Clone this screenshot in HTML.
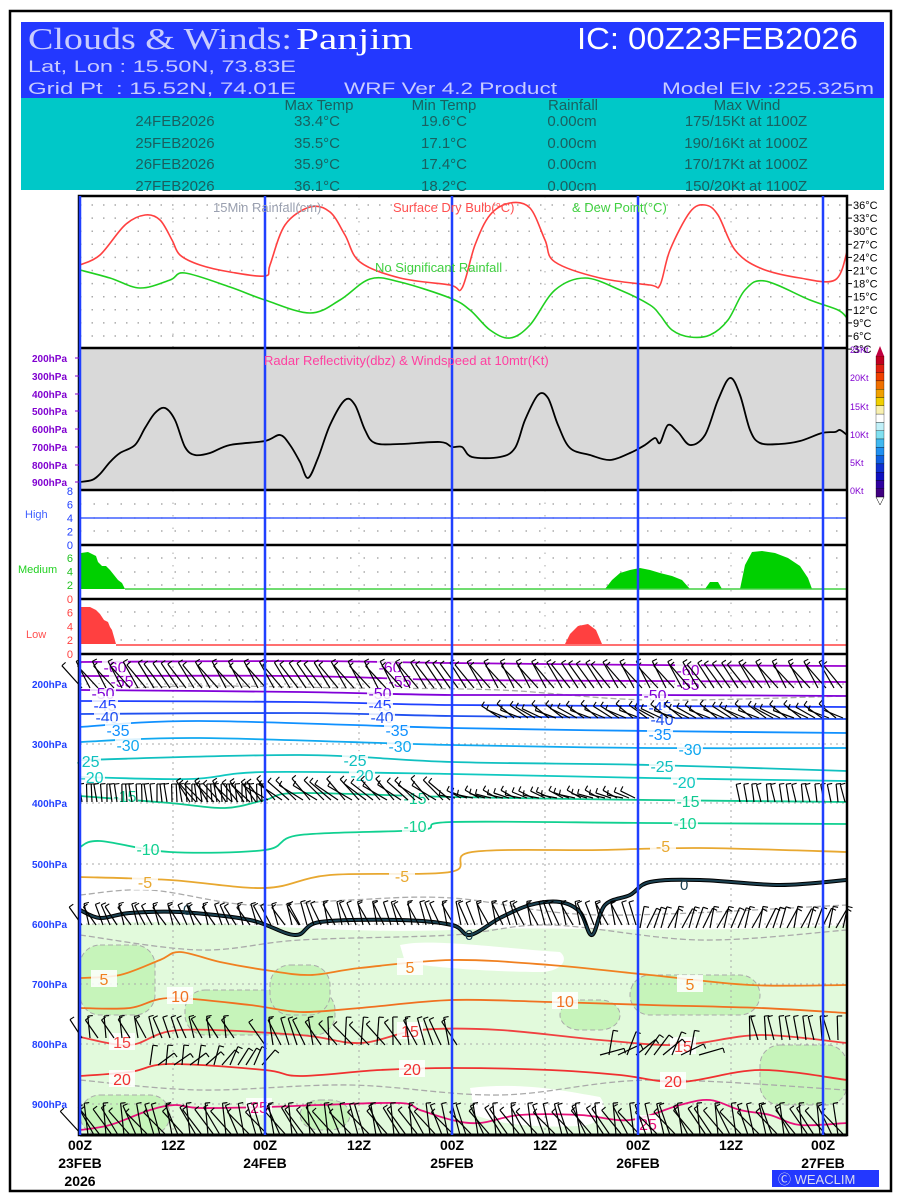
<!DOCTYPE html>
<html><head><meta charset="utf-8"><style>
html,body{margin:0;padding:0;background:#fff;width:900px;height:1200px;overflow:hidden}
svg{display:block}
</style></head><body>
<svg id="s" width="900" height="1200" viewBox="0 0 900 1200" xmlns="http://www.w3.org/2000/svg" font-family="Liberation Sans, sans-serif">
<rect x="0" y="0" width="900" height="1200" fill="#fff"/>
<rect x="10" y="11" width="881" height="1180" fill="none" stroke="#000" stroke-width="2.5"/>
<rect x="21" y="22" width="863" height="76" fill="#2338ff"/>
<rect x="21" y="98" width="863" height="92" fill="#00c8c8"/>
<text x="28" y="49" font-family="Liberation Serif, serif" font-size="31" fill="#c8ccff" textLength="264" lengthAdjust="spacingAndGlyphs">Clouds &amp; Winds:</text>
<text x="296" y="49" font-family="Liberation Serif, serif" font-size="31" fill="#fff" textLength="117" lengthAdjust="spacingAndGlyphs">Panjim</text>
<text x="577" y="49" font-size="31" fill="#fff" textLength="281" lengthAdjust="spacingAndGlyphs">IC: 00Z23FEB2026</text>
<text x="28" y="72" font-size="17" fill="#c8ccff" textLength="268" lengthAdjust="spacingAndGlyphs">Lat, Lon : 15.50N, 73.83E</text>
<text x="28" y="94" font-size="17" fill="#c8ccff" textLength="268" lengthAdjust="spacingAndGlyphs">Grid Pt&#160;&#160;: 15.52N, 74.01E</text>
<text x="344" y="94" font-size="17" fill="#c8ccff" textLength="213" lengthAdjust="spacingAndGlyphs">WRF Ver 4.2 Product</text>
<text x="662" y="94" font-size="17" fill="#c8ccff" textLength="212" lengthAdjust="spacingAndGlyphs">Model Elv :225.325m</text>
<g font-size="15" fill="#1a6060" text-anchor="middle" font-family="Liberation Sans Narrow, Liberation Sans, sans-serif">
<text x="319" y="110">Max Temp</text><text x="444" y="110">Min Temp</text><text x="573" y="110">Rainfall</text><text x="747" y="110">Max Wind</text>
<text x="175" y="126">24FEB2026</text><text x="317" y="126">33.4°C</text><text x="444" y="126">19.6°C</text><text x="572" y="126">0.00cm</text><text x="746" y="126">175/15Kt at 1100Z</text>
<text x="175" y="148">25FEB2026</text><text x="317" y="148">35.5°C</text><text x="444" y="148">17.1°C</text><text x="572" y="148">0.00cm</text><text x="746" y="148">190/16Kt at 1000Z</text>
<text x="175" y="169">26FEB2026</text><text x="317" y="169">35.9°C</text><text x="444" y="169">17.4°C</text><text x="572" y="169">0.00cm</text><text x="746" y="169">170/17Kt at 1000Z</text>
<text x="175" y="191">27FEB2026</text><text x="317" y="191">36.1°C</text><text x="444" y="191">18.2°C</text><text x="572" y="191">0.00cm</text><text x="746" y="191">150/20Kt at 1100Z</text>
</g>
<rect x="79" y="348" width="768" height="142" fill="#d9d9d9"/>
<g id="bg"></g>
<g id="dyn"></g>
<g stroke="#000" stroke-width="2.5" fill="none">
<rect x="79" y="196" width="768" height="939"/>
<line x1="79" y1="348" x2="847" y2="348"/><line x1="79" y1="490" x2="847" y2="490"/>
<line x1="79" y1="545" x2="847" y2="545"/><line x1="79" y1="599" x2="847" y2="599"/><line x1="79" y1="654" x2="847" y2="654"/>
</g>
<g stroke="#2040ff" stroke-width="2.5">
<line x1="80" y1="196" x2="80" y2="1135"/><line x1="265" y1="196" x2="265" y2="1135"/><line x1="452" y1="196" x2="452" y2="1135"/><line x1="638" y1="196" x2="638" y2="1135"/><line x1="823" y1="196" x2="823" y2="1135"/>
</g>
<g font-size="13">
<text x="213" y="212" fill="#9aa0b0">15Min Rainfall(cm)</text>
<text x="393" y="212" fill="#ff5050">Surface Dry Bulb(°C)</text>
<text x="572" y="212" fill="#40d040">&amp; Dew Point(°C)</text>
<text x="375" y="272" fill="#40d040">No Significant Rainfall</text>
<text x="264" y="365" fill="#ff40a0">Radar Reflectivity(dbz) &amp; Windspeed at 10mtr(Kt)</text>
</g>
<g font-size="11" fill="#000" id="tl"></g>
<g font-size="10" font-weight="bold" fill="#8000d0" id="pl"></g>
<g font-size="11" fill="#4060ff"><text x="25" y="518">High</text></g>
<g font-size="11" fill="#20d020"><text x="18" y="573">Medium</text></g>
<g font-size="11" fill="#ff5050"><text x="26" y="638">Low</text></g>
<g font-size="14" font-weight="bold" fill="#000" text-anchor="middle" font-family="Liberation Sans Narrow, Liberation Sans, sans-serif">
<text x="80" y="1150">00Z</text><text x="80" y="1168">23FEB</text><text x="80" y="1186">2026</text>
<text x="173" y="1150">12Z</text>
<text x="265" y="1150">00Z</text><text x="265" y="1168">24FEB</text>
<text x="359" y="1150">12Z</text>
<text x="452" y="1150">00Z</text><text x="452" y="1168">25FEB</text>
<text x="545" y="1150">12Z</text>
<text x="638" y="1150">00Z</text><text x="638" y="1168">26FEB</text>
<text x="731" y="1150">12Z</text>
<text x="823" y="1150">00Z</text><text x="823" y="1168">27FEB</text>
</g>
<rect x="772" y="1170" width="107" height="17" fill="#2338ff"/>
<text x="778" y="1184" font-size="13" fill="#dde">Ⓒ WEACLIM</text>
</svg>
<script>
var NS="http://www.w3.org/2000/svg";
function el(p,t,a,txt){var e=document.createElementNS(NS,t);for(var k in a)e.setAttribute(k,a[k]);if(txt!==undefined)e.textContent=txt;p.appendChild(e);return e;}
function cr(pts){var d="M"+pts[0][0]+","+pts[0][1];for(var i=0;i<pts.length-1;i++){var p0=pts[i-1]||pts[i],p1=pts[i],p2=pts[i+1],p3=pts[i+2]||p2;
d+=" C"+(p1[0]+(p2[0]-p0[0])/6).toFixed(1)+","+(p1[1]+(p2[1]-p0[1])/6).toFixed(1)+" "+(p2[0]-(p3[0]-p1[0])/6).toFixed(1)+","+(p2[1]-(p3[1]-p1[1])/6).toFixed(1)+" "+p2[0]+","+p2[1];}return d;}
function P(a){var r=[];for(var i=0;i<a.length;i+=2)r.push([a[i],a[i+1]]);return r;}
var bg=document.getElementById("bg"),g=document.getElementById("dyn");
var T=[36,33,30,27,24,21,18,15,12,9,6];
T.forEach(function(t,i){var y=205+i*13.1;el(bg,"line",{x1:80,y1:y,x2:847,y2:y,stroke:"#aaa","stroke-width":1.5,"stroke-dasharray":"1.5 10"});});
[504,518,531,558,572,585,612,626,640].forEach(function(y){el(bg,"line",{x1:80,y1:y,x2:847,y2:y,stroke:"#aaa","stroke-width":1.5,"stroke-dasharray":"1.5 12"});});
el(bg,"path",{d:"M80,925 C200,915 300,935 452,930 C560,925 650,935 847,925 L847,1135 L80,1135 Z",fill:"#e2fadc"});
el(bg,"path",{d:"M400,945 C430,938 500,948 560,952 C570,960 560,972 540,972 C500,972 430,968 405,962 Z",fill:"#fff"});
el(bg,"path",{d:"M470,1088 C520,1082 560,1090 600,1097 C610,1110 600,1125 580,1126 C540,1128 500,1125 475,1115 Z",fill:"#fff"});
[[80,945,75,70],[185,990,150,45],[270,965,60,50],[630,975,130,40],[300,1100,50,30],[760,1045,87,60],[80,1095,90,40],[560,1000,60,30]].forEach(function(r){el(bg,"rect",{x:r[0],y:r[1],width:r[2],height:r[3],rx:20,fill:"#c6f4ba",stroke:"#aaa","stroke-dasharray":"5 3"});});
[744,803,864,924,984,1044,1104,684].forEach(function(y){el(bg,"line",{x1:80,y1:y,x2:847,y2:y,stroke:"#aaa","stroke-dasharray":"2 4"});});
[173,359,545,731].forEach(function(x){el(bg,"line",{x1:x,y1:196,x2:x,y2:348,stroke:"#aaa","stroke-dasharray":"1.5 11"});el(bg,"line",{x1:x,y1:490,x2:x,y2:654,stroke:"#aaa","stroke-dasharray":"1.5 11"});el(bg,"line",{x1:x,y1:654,x2:x,y2:1135,stroke:"#aaa","stroke-dasharray":"2 4"});});
[[80,690,200,686,350,688,500,690,650,700,847,696],[80,895,150,890,250,905,350,900,452,898,600,915,847,905],[80,935,200,950,300,940,452,935,550,925,700,940,847,930],[80,1080,200,1090,350,1085,500,1095,650,1080,847,1090]].forEach(function(a){el(bg,"path",{d:cr(P(a)),fill:"none",stroke:"#aaa","stroke-width":1.3,"stroke-dasharray":"6 3"});});
var red=P([80,265,100,255,125,225,145,215,160,220,172,240,180,255,200,265,230,272,265,276,270,265,285,225,310,207,330,212,345,235,360,262,400,278,450,285,462,288,475,245,490,215,510,203,530,208,545,240,555,262,600,278,650,285,660,285,670,250,690,212,705,205,718,215,735,250,760,268,800,278,835,280,847,252]);
var grn=P([80,270,110,278,140,288,170,280,185,273,230,287,265,300,310,313,340,300,370,279,400,282,450,298,470,310,490,330,510,338,530,325,555,290,585,278,620,290,650,305,660,315,672,330,690,337,710,335,728,320,745,290,765,281,810,300,838,310,847,318]);
el(g,"path",{d:cr(red),fill:"none",stroke:"#ff4040","stroke-width":1.6});
el(g,"path",{d:cr(grn),fill:"none",stroke:"#20d020","stroke-width":1.6});
var ws=P([80,482,92,480,100,474,110,462,120,453,135,445,145,428,155,413,165,408,175,420,185,447,195,455,210,453,230,445,265,441,280,435,290,445,300,462,308,478,318,458,330,425,345,400,355,405,365,430,375,443,400,444,440,442,452,447,462,447,472,457,500,457,515,448,525,420,538,395,548,398,558,425,570,448,590,455,610,460,630,453,645,445,655,438,660,443,668,425,678,432,690,445,705,435,718,400,730,378,740,395,750,430,760,443,780,444,800,441,822,433,835,432,840,430,847,435]);
el(g,"path",{d:cr(ws),fill:"none",stroke:"#000","stroke-width":1.8});
el(g,"line",{x1:80,y1:518,x2:847,y2:518,stroke:"#4060ff","stroke-width":1.5});
el(g,"path",{d:"M81,589 L81,553 L88,552 L92,554 L96,556 L98,562 L102,566 L106,566 L110,570 L114,575 L118,580 L122,583 L125,589 Z M605,589 L612,580 L620,573 L630,570 L640,568 L650,570 L660,573 L672,576 L682,580 L690,589 Z M705,589 L710,582 L718,582 L722,589 Z M740,589 L745,565 L752,552 L762,551 L775,553 L788,558 L800,566 L808,578 L812,589 Z",fill:"#00d000"});
el(g,"line",{x1:125,y1:589,x2:847,y2:589,stroke:"#40d040","stroke-width":1.5});
el(g,"path",{d:"M81,644 L81,607 L90,607 L96,610 L100,614 L104,620 L108,622 L110,627 L112,630 L116,644 Z M565,644 L570,634 L578,626 L588,624 L596,630 L602,644 Z",fill:"#ff4040"});
el(g,"line",{x1:116,y1:645,x2:847,y2:645,stroke:"#ff4040","stroke-width":1.5});
var C=[
["#9a00d0",[80,662,300,661,450,663,650,665,847,666],"-60",[[115,668],[390,668],[688,671]]],
["#9a00d0",[80,676,300,676,450,680,650,681,847,682],"-55",[[122,682],[400,682],[688,685]]],
["#8000d8",[80,690,300,692,452,695,650,695,847,696],"-50",[[103,694],[380,694],[655,696]]],
["#2040ff",[80,701,300,702,452,705,650,706,847,707],"-45",[[105,706],[380,706],[660,708]]],
["#2050f0",[80,714,300,713,452,716,650,718,847,719],"-40",[[107,718],[382,718],[662,720]]],
["#1090ff",[80,727,200,721,452,728,650,731,847,733],"-35",[[118,731],[397,731],[660,735]]],
["#10a8f0",[80,742,200,738,452,745,650,748,847,748],"-30",[[128,746],[400,747],[690,750]]],
["#10c0c0",[80,760,300,755,452,762,650,765,847,771],"-25",[[88,762],[355,761],[662,767]]],
["#10c8c0",[80,777,190,779,265,772,452,774,650,778,847,781],"-20",[[92,778],[362,776],[684,783]]],
["#10c890",[80,796,170,803,225,808,265,800,300,793,452,797,650,800,847,802],"-15",[[125,797],[415,799],[688,802]]],
["#10d090",[80,847,100,841,170,852,265,850,300,835,420,830,452,822,650,823,847,824],"-10",[[148,850],[415,827],[685,824]]],
["#e8a830",[80,877,170,880,265,888,330,875,450,872,472,852,600,850,700,848,847,852],"-5",[[145,883],[402,877],[663,847]]],
["#f08020",[80,978,120,975,160,960,180,952,220,962,265,970,310,975,360,968,452,960,550,965,650,975,750,985,847,985],"5",[[104,980],[410,968],[690,985]]],
["#f07020",[80,1008,130,1008,170,998,250,1005,300,1012,360,1008,452,1000,550,1002,650,1005,760,1008,847,1013],"10",[[180,997],[565,1002]]],
["#f04040",[80,1037,130,1045,180,1030,300,1035,360,1043,420,1030,500,1030,600,1040,680,1045,760,1035,847,1043],"15",[[122,1043],[410,1032],[683,1047]]],
["#f03030",[80,1076,130,1072,170,1064,265,1070,300,1076,380,1070,452,1068,550,1070,620,1075,680,1082,760,1070,847,1080],"20",[[122,1080],[412,1070],[673,1082]]],
["#e8107a",[80,1130,110,1125,150,1110,175,1105,200,1108,265,1107,320,1105,400,1103,420,1110,452,1120,480,1123,520,1115,580,1115,630,1120,680,1105,710,1100,740,1110,770,1115,800,1125,847,1123],"25",[[259,1108],[648,1125]]]
];
C.forEach(function(c){el(g,"path",{d:cr(P(c[1])),fill:"none",stroke:c[0],"stroke-width":1.8});
c[3].forEach(function(p){el(g,"rect",{x:p[0]-13,y:p[1]-10,width:26,height:17,fill:"#fff","fill-opacity":0.85});el(g,"text",{x:p[0],y:p[1]+5,"font-size":16,fill:c[0],"text-anchor":"middle"},c[2]);});});
var z=P([80,910,100,918,130,913,180,912,250,920,295,935,320,922,400,920,452,925,470,935,500,918,530,905,560,902,580,912,592,935,605,905,630,895,650,882,700,880,780,885,847,880]);
el(g,"path",{d:cr(z),fill:"none",stroke:"#000","stroke-width":4});
el(g,"path",{d:cr(z),fill:"none",stroke:"#1a4050","stroke-width":2});
el(g,"text",{x:183,y:915,"font-size":15,fill:"#1a4050"},"0");el(g,"text",{x:465,y:940,"font-size":15,fill:"#1a4050"},"0");el(g,"text",{x:680,y:890,"font-size":15,fill:"#1a4050"},"0");
function barbs(x0,x1,step,y,len,ang,jit){for(var x=x0;x<=x1;x+=step){var a=(ang+(Math.sin(x*0.37)*jit))*Math.PI/180;var dx=Math.sin(a)*len,dy=-Math.cos(a)*len;
el(g,"line",{x1:x,y1:y,x2:(x+dx).toFixed(1),y2:(y+dy).toFixed(1),stroke:"#000","stroke-width":1.2});
el(g,"line",{x1:(x+dx).toFixed(1),y1:(y+dy).toFixed(1),x2:(x+dx+Math.cos(a)*5).toFixed(1),y2:(y+dy+Math.sin(a)*5).toFixed(1),stroke:"#000","stroke-width":1.1});}}
barbs(82,845,8,688,30,-35,8);
barbs(500,845,7,718,22,-60,10);
barbs(82,265,5,802,18,-5,5);
barbs(190,265,6,802,25,-40,8);
barbs(268,452,7,800,28,-50,10);
barbs(455,640,6,798,16,-70,10);
barbs(740,845,7,802,18,-10,5);
barbs(82,300,7,925,22,-25,12);
barbs(300,640,7,925,24,-20,10);
barbs(640,845,7,928,22,20,10);
barbs(82,240,8,1038,22,-20,15);
barbs(150,265,8,1065,20,30,25);
barbs(265,460,8,1045,28,-20,25);
barbs(600,700,9,1055,25,40,40);
barbs(750,845,8,1040,24,-10,10);
barbs(82,845,6,1135,32,-25,20);
el(g,"line",{x1:80,y1:1135,x2:847,y2:1135,stroke:"#000","stroke-width":3});
var tl=document.getElementById("tl");
T.concat([3]).forEach(function(t,i){var y=205+i*13.1;el(tl,"line",{x1:847,y1:y,x2:852,y2:y,stroke:"#000"});el(tl,"text",{x:853,y:y+4},t+"°C");});
var pl=document.getElementById("pl");
[["200hPa",358],["300hPa",376],["400hPa",394],["500hPa",411],["600hPa",429],["700hPa",447],["800hPa",465],["900hPa",482]].forEach(function(p){el(pl,"text",{x:32,y:p[1]+4},p[0]);el(pl,"line",{x1:75,y1:p[1],x2:79,y2:p[1],stroke:"#8000d0"});});
[["25Kt",349],["20Kt",377],["15Kt",406],["10Kt",434],["5Kt",462],["0Kt",490]].forEach(function(p){el(pl,"text",{x:850,y:p[1]+4,"font-weight":"normal","font-size":9},p[0]);});
function axis(vals,y0,dy,col){vals.forEach(function(v,i){el(pl,"text",{x:73,y:y0+i*dy+4,fill:col,"font-size":11,"font-weight":"normal","text-anchor":"end"},v);});}
axis(["8","6","4","2","0"],491,13.5,"#2040ff");axis(["6","4","2"],558,13.5,"#20c020");axis(["0","6","4","2","0"],599,13.7,"#ff4040");
[["200hPa",684],["300hPa",744],["400hPa",803],["500hPa",864],["600hPa",924],["700hPa",984],["800hPa",1044],["900hPa",1104]].forEach(function(p){el(pl,"text",{x:32,y:p[1]+4,fill:"#2040ff"},p[0]);});
var cols=["#c00020","#e02010","#f04000","#f07000","#f0a000","#f0d000","#f8f0b0","#ffffff","#c0f0f8","#80e0f0","#40b8f0","#2090f0","#1060e0","#1030d0","#1010c0","#3000a0","#400080"];
cols.forEach(function(c,i){el(pl,"rect",{x:876,y:356+i*8.3,width:8,height:8.3,fill:c,stroke:"#000","stroke-width":0.3});});
el(pl,"path",{d:"M876,356 L880,346 L884,356 Z",fill:"#c00040"});
el(pl,"path",{d:"M876,497 L880,505 L884,497 Z",fill:"#fff",stroke:"#000","stroke-width":0.5});
</script>
</body></html>
